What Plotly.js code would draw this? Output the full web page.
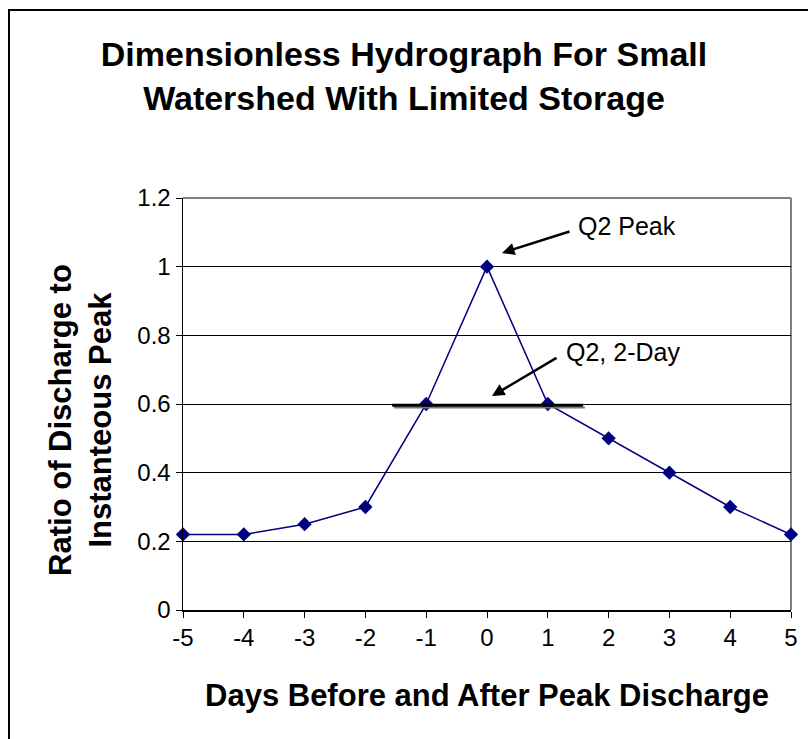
<!DOCTYPE html>
<html>
<head>
<meta charset="utf-8">
<script src="https://cdn.plot.ly/plotly-3.0.1.min.js"></script>
<style>
  html, body { margin: 0; padding: 0; background: #fff; overflow: hidden; }
  #wrap { position: relative; width: 808px; height: 739px; }
  #chart { position: absolute; left: 0; top: 0; width: 808px; height: 739px; }
  #frame { position: absolute; left: 8px; top: 9px; width: 900px; height: 900px;
           border: 2px solid #000; pointer-events: none; box-sizing: border-box; }
</style>
</head>
<body>
<div id="wrap">
  <div id="chart"></div>
  <div id="frame"></div>
</div>
<script>
// Data
const days = [-5, -4, -3, -2, -1, 0, 1, 2, 3, 4, 5];
const ratio = [0.22, 0.22, 0.25, 0.3, 0.6, 1, 0.6, 0.5, 0.4, 0.3, 0.22];
const xTickVals = [-5, -4, -3, -2, -1, 0, 1, 2, 3, 4, 5];
const xTickText = ['-5', '-4', '-3', '-2', '-1', '0', '1', '2', '3', '4', '5'];
const yTickVals = [0, 0.2, 0.4, 0.6, 0.8, 1, 1.2];
const yTickText = ['0', '0.2', '0.4', '0.6', '0.8', '1', '1.2'];
const twoDayValue = 0.596;
const twoDaySpan = [-1.56, 1.58];

const FONT = 'Liberation Sans, Arial, Helvetica, sans-serif';

const trace = {
  x: days, y: ratio, type: 'scatter', mode: 'lines+markers',
  line: { color: '#000080', width: 1.5 },
  marker: { symbol: 'diamond', size: 11, color: '#000080' },
  cliponaxis: false, hoverinfo: 'skip'
};

const layout = {
  width: 808, height: 739,
  margin: { l: 183, r: 17, t: 198, b: 129 },
  paper_bgcolor: '#fff', plot_bgcolor: '#fff',
  showlegend: false,
  font: { family: FONT, color: '#000' },
  title: {
    text: '<b>Dimensionless Hydrograph For Small<br>Watershed With Limited Storage</b>',
    font: { family: FONT, size: 34, color: '#000' },
    x: 0.5, xref: 'container', xanchor: 'center',
    y: 1 - 66 / 739, yref: 'container', yanchor: 'middle'
  },
  xaxis: {
    range: [-5, 5], tickvals: xTickVals, ticktext: xTickText,
    ticks: 'outside', ticklen: 6, tickcolor: '#000', tickwidth: 1,
    showline: true, linecolor: '#000', linewidth: 1.5,
    showgrid: false, zeroline: false,
    tickfont: { size: 24, family: FONT },
    title: { text: '<b>Days Before and After Peak Discharge</b>', font: { size: 31, family: FONT }, standoff: 34 }
  },
  yaxis: {
    range: [0, 1.2], tickvals: yTickVals, ticktext: yTickText,
    ticks: 'outside', ticklen: 6, tickcolor: '#000', tickwidth: 1,
    showline: true, linecolor: '#000', linewidth: 1.5,
    showgrid: true, gridcolor: '#000', gridwidth: 1, zeroline: false,
    tickfont: { size: 24, family: FONT },
    title: { text: '' }
  },
  shapes: [
    { type: 'line', xref: 'x', yref: 'y', x0: twoDaySpan[0] + 0.03, x1: twoDaySpan[1] + 0.03,
      y0: twoDayValue - 0.006, y1: twoDayValue - 0.006, line: { color: '#777', width: 2 }, layer: 'above' },
    { type: 'line', xref: 'x', yref: 'y', x0: twoDaySpan[0], x1: twoDaySpan[1],
      y0: twoDayValue, y1: twoDayValue, line: { color: '#000', width: 3 }, layer: 'above' },
    { type: 'line', xref: 'x domain', yref: 'y domain', x0: 0, x1: 1, y0: 1, y1: 1,
      line: { color: '#808080', width: 2 }, layer: 'above' },
    { type: 'line', xref: 'x domain', yref: 'y domain', x0: 1, x1: 1, y0: 0, y1: 1,
      line: { color: '#808080', width: 2 }, layer: 'below' }
  ],
  annotations: [
    { x: -0.169, y: 0.462, xref: 'paper', yref: 'paper', textangle: -90,
      text: '<b>Ratio of Discharge to<br>Instanteous Peak</b>', showarrow: false,
      xanchor: 'center', yanchor: 'middle', align: 'center',
      font: { size: 31, family: FONT, color: '#000' } },
    { x: 0.247, y: 1.04, ax: 1.382, ay: 1.104, axref: 'x', ayref: 'y', xref: 'x', yref: 'y',
      text: '', showarrow: true, arrowhead: 2, arrowsize: 1, arrowwidth: 2.5, arrowcolor: '#000' },
    { x: 1.46, y: 1.119, xref: 'x', yref: 'y', text: 'Q2 Peak', showarrow: false,
      xanchor: 'left', yanchor: 'middle', font: { size: 25, family: FONT, color: '#000' } },
    { x: 0.082, y: 0.623, ax: 1.168, ay: 0.737, axref: 'x', ayref: 'y', xref: 'x', yref: 'y',
      text: '', showarrow: true, arrowhead: 2, arrowsize: 1, arrowwidth: 2.5, arrowcolor: '#000' },
    { x: 1.266, y: 0.7515, xref: 'x', yref: 'y', text: 'Q2, 2-Day', showarrow: false,
      xanchor: 'left', yanchor: 'middle', font: { size: 25, family: FONT, color: '#000' } }
  ]
};

Plotly.newPlot('chart', [trace], layout, { displayModeBar: false, staticPlot: true });
</script>
</body>
</html>
